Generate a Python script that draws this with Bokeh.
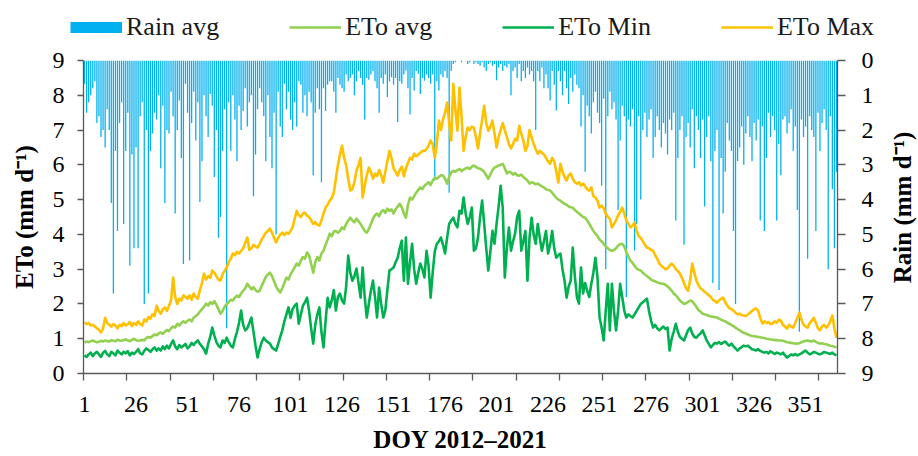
import math
from bokeh.plotting import figure
from bokeh.layouts import column, row
from bokeh.models import (Range1d, LinearAxis, FixedTicker, Legend, LegendItem,
                          ColumnDataSource, Label)
from bokeh.embed import file_html
from bokeh.resources import INLINE

# ---------------- data ----------------
days = list(range(1, 367))

rain_avg = [
    0.67, 1.5, 1.2, 1.0, 0.8, 0.6, 1.8, 1.6, 2.2, 2.0,
    2.5, 1.4, 2.0, 4.1, 6.7, 2.6, 4.9, 1.8, 1.2, 4.7,
    2.6, 1.5, 5.9, 2.7, 5.4, 2.5, 5.4, 1.6, 1.2, 7.0,
    2.0, 6.7, 2.6, 2.1, 1.5, 1.7, 1.0, 3.1, 1.3, 4.1,
    2.0, 2.1, 0.9, 1.6, 4.4, 2.0, 1.15, 2.8, 5.85, 0.67,
    1.5, 5.75, 1.8, 0.9, 2.3, 1.2, 4.07, 2.9, 1.0, 1.6,
    2.2, 0.96, 1.3, 3.35, 2.0, 5.1, 4.5, 2.6, 1.4, 7.7,
    1.2, 2.6, 1.0, 1.7, 2.9, 1.3, 2.0, 1.45, 0.8, 1.9,
    1.2, 1.0, 3.9, 2.7, 1.4, 0.8, 1.2, 1.6, 2.9, 1.0,
    2.2, 3.1, 1.5, 5.0, 0.9, 1.9, 2.2, 0.67, 1.4, 0.9,
    1.7, 2.0, 1.2, 1.9, 0.6, 0.7, 1.5, 1.0, 1.6, 0.9,
    1.2, 3.3, 1.5, 0.8, 1.4, 3.5, 0.8, 1.45, 0.7, 0.6,
    0.6, 0.9, 1.5, 0.5, 0.7, 0.8, 0.9, 0.4, 0.6, 0.5,
    0.4, 1.0, 0.6, 0.3, 0.5, 0.7, 1.7, 0.5, 0.55, 0.4,
    0.3, 0.6, 0.8, 1.5, 0.5, 0.67, 0.4, 1.05, 0.6, 0.48,
    0.7, 0.5, 1.77, 0.6, 0.67, 0.4, 0.29, 0.8, 1.55, 0.5,
    0.86, 0.3, 0.38, 0.96, 0.5, 0.58, 0.4, 0.5, 0.67, 0.4,
    3.45, 0.6, 0.86, 0.4, 0.48, 0.3, 0.5, 3.8, 0.3, 0.1,
    0.05, 0.0, 0.0, 0.05, 0.0, 0.0, 0.1, 0.05, 0.0, 0.1,
    0.05, 0.1, 0.15, 0.05, 0.2, 0.3, 0.1, 0.05, 0.15, 0.1,
    0.57, 0.2, 0.1, 0.3, 0.15, 0.2, 0.1, 1.0, 0.3, 0.2,
    0.5, 0.1, 0.6, 0.3, 0.5, 0.2, 0.4, 0.3, 0.6, 2.0,
    0.3, 0.6, 0.2, 0.8, 0.4, 0.8, 1.15, 0.3, 0.7, 1.44,
    0.3, 0.6, 1.0, 0.3, 0.8, 1.25, 0.5, 0.9, 0.4, 0.7,
    0.8, 1.9, 1.0, 3.2, 1.3, 1.6, 2.1, 1.2, 0.9, 1.5,
    1.8, 3.6, 1.1, 6.0, 1.6, 0.9, 1.4, 1.2, 1.7, 4.3,
    2.3, 1.3, 1.6, 6.8, 1.7, 1.9, 1.4, 5.46, 4.7, 1.6,
    4.0, 2.0, 1.5, 2.2, 1.7, 1.4, 2.8, 2.2, 1.6, 2.0,
    2.5, 1.8, 2.1, 2.7, 1.7, 2.0, 1.5, 4.6, 2.8, 2.0,
    1.6, 5.3, 2.2, 1.8, 2.5, 1.4, 3.1, 1.6, 2.0, 2.8,
    1.7, 4.2, 2.2, 1.6, 2.9, 6.4, 2.6, 2.0, 6.6, 2.8,
    4.4, 3.2, 1.8, 2.3, 2.6, 4.9, 7.0, 2.9, 2.5, 1.9,
    3.0, 2.1, 1.6, 2.2, 2.9, 1.8, 2.3, 1.7, 4.6, 1.9,
    4.9, 2.8, 1.5, 2.2, 1.6, 2.0, 4.6, 2.4, 3.3, 1.7,
    1.6, 2.1, 1.8, 1.4, 2.6, 1.9, 4.3, 7.8, 1.7, 2.2,
    1.9, 5.7, 1.6, 2.0, 2.2, 4.9, 1.5, 2.6, 1.8, 1.4,
    2.0, 6.0, 1.6, 3.7, 5.4, 3.2,
]

eto_avg = [
    0.89, 0.92, 0.90, 0.93, 0.95, 0.92, 0.90, 0.91, 0.94, 0.92,
    0.95, 0.93, 0.92, 0.96, 0.94, 0.93, 0.97, 0.95, 0.94, 0.96,
    0.98, 0.95, 0.93, 0.97, 1.00, 0.96, 0.94, 0.95, 0.97, 0.95,
    1.02, 1.05, 1.03, 1.08, 1.12, 1.10, 1.15, 1.18, 1.14, 1.20,
    1.25, 1.22, 1.30, 1.35, 1.32, 1.43, 1.38, 1.45, 1.50, 1.46,
    1.52, 1.55, 1.50, 1.61, 1.65, 1.70, 1.78, 1.85, 1.92, 2.01,
    1.95, 2.05, 2.00, 2.08, 1.98, 1.85, 1.72, 1.80, 1.92, 2.00,
    2.05, 2.12, 2.10, 2.18, 2.24, 2.20, 2.30, 2.38, 2.45, 2.58,
    2.50, 2.42, 2.48, 2.40, 2.35, 2.38, 2.52, 2.65, 2.78, 2.85,
    2.90, 2.80, 2.65, 2.50, 2.40, 2.33, 2.45, 2.60, 2.76, 2.70,
    2.85, 2.95, 3.05, 3.16, 3.10, 3.25, 3.35, 3.30, 3.48, 3.40,
    3.15, 2.90, 3.20, 3.35, 3.25, 3.45, 3.53, 3.70, 3.85, 4.02,
    3.95, 4.08, 4.10, 4.05, 4.10, 4.20, 4.15, 4.30, 4.40, 4.48,
    4.40, 4.35, 4.45, 4.38, 4.30, 4.20, 4.10, 4.05, 4.15, 4.30,
    4.45, 4.55, 4.60, 4.52, 4.65, 4.70, 4.62, 4.74, 4.68, 4.72,
    4.60, 4.72, 4.80, 4.88, 4.78, 4.60, 4.48, 4.85, 5.06, 5.00,
    5.10, 5.20, 5.28, 5.35, 5.30, 5.40, 5.45, 5.50, 5.42, 5.55,
    5.63, 5.60, 5.65, 5.70, 5.69, 5.60, 5.46, 5.65, 5.78, 5.83,
    5.80, 5.85, 5.88, 5.82, 5.86, 5.90, 5.92, 5.88, 5.95, 5.98,
    5.94, 5.90, 5.89, 5.85, 5.80, 5.70, 5.60, 5.72, 5.85, 5.92,
    5.95, 5.98, 6.00, 6.03, 5.90, 5.75, 5.80, 5.78, 5.72, 5.76,
    5.70, 5.69, 5.72, 5.65, 5.60, 5.55, 5.46, 5.50, 5.48, 5.44,
    5.46, 5.42, 5.38, 5.35, 5.30, 5.28, 5.26, 5.20, 5.12, 5.05,
    5.00, 4.97, 4.92, 4.88, 4.85, 4.80, 4.78, 4.77, 4.70, 4.65,
    4.60, 4.55, 4.50, 4.48, 4.40, 4.30, 4.20, 4.10, 4.02, 3.95,
    3.85, 3.80, 3.73, 3.65, 3.60, 3.55, 3.53, 3.55, 3.60, 3.68,
    3.72, 3.73, 3.65, 3.50, 3.35, 3.25, 3.18, 3.10, 3.02, 2.98,
    2.96, 2.90, 2.85, 2.80, 2.75, 2.70, 2.67, 2.65, 2.62, 2.60,
    2.58, 2.58, 2.55, 2.50, 2.45, 2.38, 2.30, 2.25, 2.18, 2.10,
    2.05, 2.00, 2.02, 2.06, 2.10, 2.08, 2.00, 1.92, 1.82, 1.78,
    1.72, 1.70, 1.68, 1.66, 1.64, 1.63, 1.62, 1.61, 1.58, 1.55,
    1.52, 1.50, 1.46, 1.43, 1.40, 1.36, 1.32, 1.28, 1.24, 1.20,
    1.17, 1.15, 1.12, 1.10, 1.08, 1.07, 1.06, 1.05, 1.04, 1.03,
    1.02, 1.00, 0.99, 0.98, 0.97, 0.96, 0.96, 0.95, 0.95, 0.94,
    0.92, 0.90, 0.89, 0.88, 0.87, 0.86, 0.86, 0.87, 0.90, 0.92,
    0.94, 0.95, 0.93, 0.92, 0.95, 0.91, 0.88, 0.86, 0.87, 0.85,
    0.84, 0.82, 0.80, 0.79, 0.77, 0.75,
]

eto_min = [
    0.52, 0.48, 0.55, 0.60, 0.50, 0.58, 0.62, 0.55, 0.48, 0.60,
    0.65, 0.55, 0.50, 0.62, 0.58, 0.52, 0.66, 0.60, 0.55, 0.62,
    0.58, 0.64, 0.52, 0.60, 0.56, 0.62, 0.70, 0.58, 0.55, 0.65,
    0.72, 0.68, 0.62, 0.70, 0.75, 0.66, 0.72, 0.66, 0.78, 0.70,
    0.80, 0.72, 0.85, 0.95, 0.78, 0.70, 0.82, 0.75, 0.80, 0.85,
    0.72, 0.78, 0.88, 0.82, 0.90, 0.95, 0.85, 0.78, 0.70, 0.57,
    0.85, 1.05, 1.32, 1.10, 0.90, 0.80, 0.75, 0.95, 0.88, 1.03,
    0.90, 0.80, 0.75, 1.00, 1.20, 1.45, 1.81, 1.40, 1.24, 1.30,
    1.45, 1.61, 1.20, 0.80, 0.46, 0.70, 0.90, 1.03, 0.95, 0.90,
    0.86, 0.75, 0.70, 0.66, 0.85, 1.05, 1.24, 1.50, 1.70, 1.90,
    1.60, 1.85, 1.95, 2.01, 1.43, 1.70, 1.95, 2.05, 2.18, 1.80,
    1.30, 0.86, 1.40, 1.70, 1.90, 1.20, 0.75, 1.50, 2.18, 1.90,
    2.10, 2.40, 1.81, 2.20, 2.30, 2.10, 2.01, 2.50, 3.39, 2.90,
    2.67, 2.80, 3.02, 2.60, 2.18, 3.05, 2.20, 1.61, 2.00, 2.38,
    2.67, 2.20, 1.61, 2.47, 2.00, 1.61, 1.81, 2.40, 2.96, 3.00,
    3.05, 3.20, 3.33, 3.60, 3.82, 2.67, 3.91, 2.58, 3.20, 3.73,
    3.00, 2.58, 2.90, 3.16, 3.00, 2.76, 3.53, 3.10, 2.18, 2.90,
    3.50, 3.73, 3.80, 3.91, 3.70, 3.45, 3.90, 4.30, 4.40, 4.48,
    4.30, 4.20, 4.68, 4.60, 5.06, 4.60, 4.30, 4.50, 4.77, 3.53,
    3.60, 3.91, 4.50, 4.97, 4.30, 3.60, 2.96, 3.50, 4.10, 3.73,
    4.30, 4.80, 5.40, 4.77, 2.76, 3.60, 4.20, 3.53, 3.80, 4.02,
    4.50, 4.68, 3.53, 3.80, 4.10, 2.67, 3.90, 4.48, 4.00, 3.73,
    4.30, 3.90, 3.53, 3.80, 4.10, 3.45, 3.70, 4.10, 3.60, 3.33,
    3.40, 3.45, 3.00, 2.67, 2.18, 2.50, 2.67, 3.62, 2.80, 2.20,
    2.01, 3.05, 2.30, 2.60, 2.38, 2.20, 2.58, 2.90, 3.33, 2.76,
    1.61, 1.32, 0.95, 1.80, 2.58, 1.24, 2.58, 1.80, 1.24, 1.80,
    2.58, 2.20, 1.81, 1.61, 1.70, 1.65, 1.61, 1.70, 1.80, 1.90,
    2.00, 2.05, 2.10, 2.15, 1.80, 1.52, 1.32, 1.40, 1.30, 1.24,
    1.30, 1.35, 1.28, 1.32, 0.66, 1.00, 1.20, 1.43, 1.20, 1.05,
    1.00, 0.95, 1.10, 1.25, 1.32, 1.15, 1.05, 1.03, 1.10, 1.15,
    1.24, 1.10, 0.95, 0.85, 0.75, 0.82, 0.88, 0.86, 0.90, 0.85,
    0.89, 0.92, 0.85, 0.80, 0.86, 0.78, 0.72, 0.66, 0.72, 0.76,
    0.80, 0.78, 0.80, 0.75, 0.70, 0.68, 0.66, 0.70, 0.65, 0.62,
    0.60, 0.62, 0.58, 0.64, 0.60, 0.56, 0.60, 0.58, 0.55, 0.60,
    0.52, 0.46, 0.50, 0.55, 0.52, 0.56, 0.52, 0.55, 0.58, 0.62,
    0.66, 0.60, 0.55, 0.58, 0.62, 0.60, 0.57, 0.55, 0.58, 0.62,
    0.60, 0.58, 0.56, 0.60, 0.55, 0.52,
]

eto_max = [
    1.47, 1.42, 1.45, 1.38, 1.40, 1.35, 1.30, 1.25, 1.18, 1.30,
    1.60, 1.45, 1.40, 1.35, 1.42, 1.38, 1.30, 1.40, 1.36, 1.45,
    1.38, 1.42, 1.48, 1.36, 1.45, 1.40, 1.50, 1.42, 1.38, 1.55,
    1.50, 1.62, 1.58, 1.70, 1.65, 1.95, 1.80, 1.72, 1.85, 1.90,
    1.80, 1.95, 2.10, 2.76, 2.20, 2.00, 2.15, 2.10, 2.25, 2.20,
    2.15, 2.25, 2.12, 2.30, 2.20, 2.15, 2.40, 2.60, 2.87, 2.70,
    2.80, 2.75, 2.96, 2.90, 2.80, 2.70, 2.67, 2.85, 2.95, 3.05,
    3.20, 3.30, 3.45, 3.40, 3.50, 3.45, 3.53, 3.60, 3.75, 3.91,
    3.55, 3.60, 3.70, 3.65, 3.62, 3.73, 3.85, 3.95, 4.05, 4.10,
    4.17, 4.05, 3.90, 3.77, 3.90, 4.00, 4.05, 3.98, 4.05, 4.02,
    4.10, 4.20, 4.45, 4.68, 4.55, 4.50, 4.60, 4.62, 4.54, 4.50,
    4.40, 4.30, 4.35, 4.28, 4.25, 4.40, 4.60, 4.77, 4.85, 4.97,
    5.05, 5.20, 5.60, 6.00, 6.30, 6.55, 6.20, 5.98, 5.60, 5.26,
    5.30, 5.50, 5.83, 6.00, 6.20, 5.06, 5.40, 5.70, 5.92, 5.80,
    5.60, 5.75, 5.68, 5.85, 5.70, 5.49, 5.80, 6.10, 6.40, 6.20,
    5.90, 5.80, 5.69, 5.85, 5.95, 5.67, 5.90, 6.05, 6.20, 6.15,
    6.32, 6.25, 6.30, 6.35, 6.40, 6.40, 6.45, 6.55, 6.70, 6.60,
    6.20, 6.60, 7.27, 7.00, 7.30, 7.50, 7.79, 7.20, 6.70, 8.33,
    7.60, 6.98, 8.22, 7.40, 6.40, 6.80, 7.07, 7.00, 7.10, 7.07,
    6.80, 6.47, 6.90, 7.30, 7.70, 7.20, 6.98, 7.10, 7.27, 6.90,
    6.50, 6.80, 7.00, 7.20, 7.00, 6.80, 6.60, 6.47, 6.60, 6.75,
    6.70, 7.12, 6.90, 6.70, 6.40, 6.55, 7.00, 6.80, 6.60, 6.45,
    6.32, 6.40, 6.35, 6.30, 6.20, 6.10, 6.03, 6.20, 6.10, 5.80,
    5.49, 6.03, 5.80, 5.65, 5.55, 5.70, 5.75, 5.60, 5.50, 5.46,
    5.50, 5.40, 5.46, 5.38, 5.30, 5.26, 5.35, 5.10, 5.06, 4.97,
    4.77, 4.83, 4.75, 4.60, 4.50, 4.45, 4.20, 4.30, 4.40, 4.55,
    4.65, 4.77, 4.60, 4.40, 4.30, 4.20, 4.25, 4.34, 4.10, 3.95,
    3.90, 3.80, 3.70, 3.62, 3.60, 3.55, 3.53, 3.40, 3.30, 3.16,
    3.10, 3.05, 3.00, 3.02, 3.10, 3.16, 3.10, 3.00, 2.95, 2.87,
    2.75, 2.60, 2.45, 2.38, 2.70, 3.16, 2.90, 2.67, 2.55, 2.45,
    2.40, 2.35, 2.30, 2.25, 2.20, 2.12, 2.08, 2.04, 2.10, 2.15,
    2.18, 2.05, 1.95, 1.88, 1.85, 1.81, 1.75, 1.70, 1.72, 1.68,
    1.67, 1.65, 1.70, 1.75, 1.80, 1.85, 1.87, 1.80, 1.60, 1.44,
    1.50, 1.45, 1.48, 1.42, 1.44, 1.50, 1.46, 1.55, 1.52, 1.40,
    1.35, 1.29, 1.40, 1.35, 1.32, 1.45, 1.60, 1.75, 1.55, 1.40,
    1.35, 1.32, 1.45, 1.52, 1.60, 1.45, 1.30, 1.24, 1.35, 1.40,
    1.32, 1.38, 1.50, 1.67, 1.30, 1.03,
]

series_names = ["Rain avg", "ETo avg", "ETo Min", "ETo Max"]
x_title = "DOY 2012\u20132021"
y_title = "ETo (mm d\u207b\u00b9)"
y2_title = "Rain (mm d\u207b\u00b9)"
x_tick_labels = list(range(1, 352, 25))
x_tick_marks = [0.5 + 21 * k for k in range(18)]
y_ticks = list(range(0, 10))

for name, arr in [("rain", rain_avg), ("avg", eto_avg), ("min", eto_min), ("max", eto_max)]:
    assert len(arr) == 366, (name, len(arr))

# ---------------- styling ----------------
FONT = "Liberation Serif"
AXIS_COLOR = "#595959"
C_RAIN = "#00B0F0"
C_AVG = "#92D050"
C_MIN = "#00B050"
C_MAX = "#FFC000"
LW = 2.6


def bare(fig):
    fig.outline_line_color = None
    fig.xgrid.visible = False
    fig.ygrid.visible = False
    fig.background_fill_color = "white"
    fig.border_fill_color = "white"


src = ColumnDataSource(dict(day=days, rain=rain_avg, avg=eto_avg,
                            mn=eto_min, mx=eto_max))

# ---------------- main chart ----------------
p = figure(width=888, height=411, output_backend="svg", toolbar_location=None,
           x_range=Range1d(0.5, 366.5), y_range=Range1d(0, 9),
           min_border_left=83, min_border_right=51,
           min_border_top=15, min_border_bottom=83)
p.extra_y_ranges = {"rain": Range1d(start=9, end=0)}
bare(p)

p.vbar(x="day", width=0.62, top=0, bottom="rain", source=src,
       y_range_name="rain", fill_color=C_RAIN, line_color=None)
p.line("day", "avg", source=src, line_color=C_AVG, line_width=LW, line_join="round")
p.line("day", "mn", source=src, line_color=C_MIN, line_width=LW, line_join="round")
p.line("day", "mx", source=src, line_color=C_MAX, line_width=LW, line_join="round")

# bottom axis
xa = p.xaxis[0]
xa.ticker = FixedTicker(ticks=x_tick_labels, minor_ticks=x_tick_marks)
xa.major_tick_line_color = None
xa.major_tick_out = 0
xa.major_tick_in = 0
xa.minor_tick_out = 7
xa.minor_tick_in = 0
xa.minor_tick_line_color = AXIS_COLOR
xa.minor_tick_line_width = 1.3
xa.axis_line_color = AXIS_COLOR
xa.axis_line_width = 1.3
xa.major_label_text_font = FONT
xa.major_label_text_font_size = "24px"
xa.major_label_text_color = "black"
xa.major_label_standoff = 16
xa.axis_label = x_title
xa.axis_label_text_font = FONT
xa.axis_label_text_font_size = "25px"
xa.axis_label_text_font_style = "bold"
xa.axis_label_text_color = "black"
xa.axis_label_standoff = 11

# left axis
ya = p.yaxis[0]
ya.ticker = FixedTicker(ticks=y_ticks)
ya.minor_tick_line_color = None
ya.major_tick_out = 6
ya.major_tick_in = 0
ya.major_tick_line_color = AXIS_COLOR
ya.major_tick_line_width = 1.3
ya.axis_line_color = AXIS_COLOR
ya.axis_line_width = 1.3
ya.major_label_text_font = FONT
ya.major_label_text_font_size = "24px"
ya.major_label_text_color = "black"
ya.major_label_standoff = 13
ya.axis_label = y_title
ya.axis_label_text_font = FONT
ya.axis_label_text_font_size = "25px"
ya.axis_label_text_font_style = "bold"
ya.axis_label_text_color = "black"
ya.axis_label_standoff = 12

# right axis (rain, inverted)
ra = LinearAxis(y_range_name="rain", ticker=FixedTicker(ticks=y_ticks))
ra.minor_tick_line_color = None
ra.major_tick_out = 8
ra.major_tick_in = 0
ra.major_tick_line_color = AXIS_COLOR
ra.major_tick_line_width = 1.3
ra.axis_line_color = AXIS_COLOR
ra.axis_line_width = 1.3
ra.major_label_text_font = FONT
ra.major_label_text_font_size = "24px"
ra.major_label_text_color = "black"
ra.major_label_standoff = 16
p.add_layout(ra, "right")

# ---------------- right-hand title strip (reads bottom to top) ----------------
side = figure(width=30, height=411, output_backend="svg", toolbar_location=None,
              x_range=Range1d(0, 1), y_range=Range1d(0, 1),
              x_axis_type=None, y_axis_type=None, title=None,
              min_border=0, min_border_left=0, min_border_right=0,
              min_border_top=0, min_border_bottom=0)
bare(side)
side.frame_align = False
side.add_layout(Label(x=0.47, y=0.606, text=y2_title, angle=math.pi / 2,
                      text_align="center", text_baseline="middle",
                      text_font=FONT, text_font_size="25px",
                      text_font_style="bold", text_color="black"))

# ---------------- legend strip (own small canvas above the chart) ----------------
lg = figure(width=918, height=45, output_backend="svg", toolbar_location=None,
            x_range=Range1d(0, 1), y_range=Range1d(0, 1),
            x_axis_type=None, y_axis_type=None, title=None,
            min_border=0, min_border_left=0, min_border_right=0,
            min_border_top=0, min_border_bottom=0)
bare(lg)
lg.frame_align = False
hidden_x = [0, 1]
hidden_y = [5, 5]   # outside the strip's y range: only the legend swatches show
k_rain = lg.line(x=hidden_x, y=hidden_y, line_color=C_RAIN, line_width=11)
k_avg = lg.line(x=hidden_x, y=hidden_y, line_color=C_AVG, line_width=LW)
k_min = lg.line(x=hidden_x, y=hidden_y, line_color=C_MIN, line_width=LW)
k_max = lg.line(x=hidden_x, y=hidden_y, line_color=C_MAX, line_width=LW)

legend = Legend(items=[
    LegendItem(label=series_names[0], renderers=[k_rain]),
    LegendItem(label=series_names[1], renderers=[k_avg]),
    LegendItem(label=series_names[2], renderers=[k_min]),
    LegendItem(label=series_names[3], renderers=[k_max]),
], location=(70, 3), orientation="horizontal",
    glyph_width=52, glyph_height=30, label_height=30, label_standoff=4,
    spacing=70, padding=0, margin=0,
    label_text_font=FONT, label_text_font_size="26px", label_text_color="#1a1a1a",
    border_line_color=None, background_fill_alpha=0)
lg.add_layout(legend)

layout = column(lg, row(p, side, spacing=0), spacing=0)
open("out.html", "w").write(file_html(layout, INLINE))
